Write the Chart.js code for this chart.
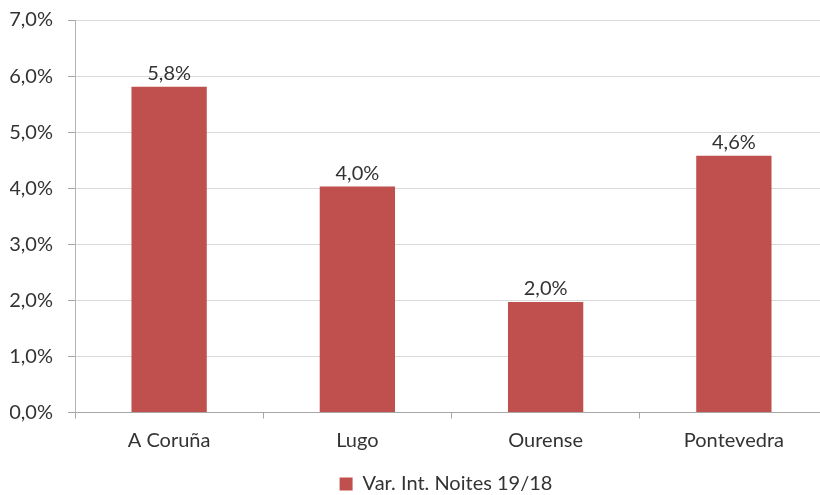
<!DOCTYPE html>
<html>
<head>
<meta charset="utf-8">
<script src="https://cdn.jsdelivr.net/npm/chart.js@4"></script>
<style>
    html, body { margin: 0; padding: 0; overflow: hidden; background: #fff; }
    #wrap { width: 830px; height: 495px; }
</style>
</head>
<body>
<div id="wrap"><canvas id="chart"></canvas></div>
<script>
// Chart data
const provinces = ["A Coruña", "Lugo", "Ourense", "Pontevedra"];
const variation = [5.81, 4.03, 1.97, 4.58];
const seriesName = "Var. Int. Noites 19/18";
const yTicks = [0, 1, 2, 3, 4, 5, 6, 7];

const textColor = "#333333";
const fontFamily = "Lato, 'Open Sans', sans-serif";

// Format a number like "5,8%"
function pct(v) {
    return v.toFixed(1).replace(".", ",") + "%";
}

// Small plugin to write the values above the bars
const barLabels = {
    id: "barLabels",
    afterDatasetsDraw(chart) {
        const ctx = chart.ctx;
        const meta = chart.getDatasetMeta(0);
        ctx.save();
        ctx.font = "20px " + fontFamily;
        ctx.fillStyle = textColor;
        ctx.textAlign = "center";
        ctx.textBaseline = "alphabetic";
        meta.data.forEach((bar, i) => {
            ctx.fillText(pct(chart.data.datasets[0].data[i]), bar.x, bar.y - 7);
        });
        ctx.restore();
    },
};

// Legend sits centred under the plot area, not under the whole canvas
const legendShift = {
    id: "legendShift",
    afterLayout(chart) {
        chart.legend.left += 27;
        chart.legend.right += 27;
    },
};

new Chart(document.getElementById("chart"), {
    type: "bar",
    data: {
        labels: provinces,
        datasets: [
            {
                label: seriesName,
                data: variation,
                backgroundColor: "#C0504D",
                borderWidth: 0,
                categoryPercentage: 1,
                barPercentage: 0.4,
            },
        ],
    },
    options: {
        responsive: true,
        maintainAspectRatio: false,
        animation: false,
        layout: {
            padding: { top: 20, left: 10, right: 2, bottom: -9 },
        },
        scales: {
            x: {
                grid: {
                    offset: true,
                    drawOnChartArea: false,
                    drawTicks: true,
                    tickLength: 6,
                    color: "#a6a6a6",
                },
                border: { color: "#a6a6a6" },
                ticks: {
                    color: textColor,
                    font: { family: fontFamily, size: 20 },
                    padding: 10,
                },
                afterFit: s => { s.height = 57.5; },
            },
            y: {
                min: 0,
                max: 7,
                afterBuildTicks: s => { s.ticks = yTicks.map(v => ({ value: v })); },
                grid: {
                    color: "#d9d9d9",
                    tickLength: 7,
                    tickColor: "#a6a6a6",
                },
                border: { color: "#b3b3b3" },
                ticks: {
                    color: textColor,
                    font: { family: fontFamily, size: 20 },
                    padding: 15,
                    callback: v => pct(v),
                },
                afterFit: s => {
                    s.width = 65;
                    s.paddingTop = 0;
                    s.paddingBottom = 0;
                },
            },
        },
        plugins: {
            legend: {
                position: "bottom",
                labels: {
                    color: textColor,
                    font: { family: fontFamily, size: 20 },
                    boxWidth: 13,
                    boxHeight: 13,
                    padding: 4,
                },
            },
            tooltip: { enabled: false },
        },
    },
    plugins: [barLabels, legendShift],
});
</script>
</body>
</html>
